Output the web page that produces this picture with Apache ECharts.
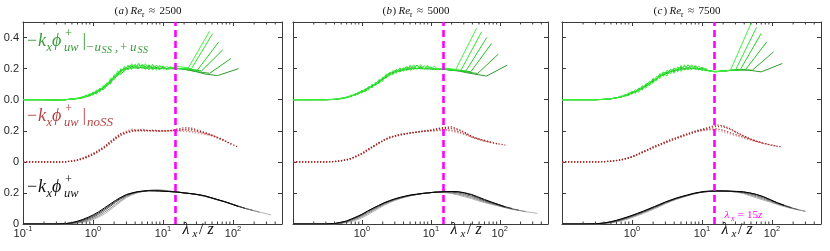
<!DOCTYPE html>
<html><head><meta charset="utf-8">
<script src="https://cdn.jsdelivr.net/npm/echarts@6/dist/echarts.min.js"></script>
<style>html,body{margin:0;padding:0;background:#fff}#c{width:830px;height:251px}</style>
</head><body><div id="c"></div>
<script>
// ---------- axes / ticks ----------
const xMin = 0.1, xMax = 500, yMin = 0, yMax = 1.3;
const yTickVals = [0, 0.2, 0.4, 0.6, 0.8, 1.0, 1.2];
const yTickText = ['0', '0.2', '0', '0.2', '0.0', '0.2', '0.4'];
const minorTicks = [0.2,0.3,0.4,0.5,0.6,0.7,0.8,0.9,2,3,4,5,6,7,8,9,20,30,40,50,60,70,80,90,200,300,400];
const panelLetters = ['a', 'b', 'c'];
const panelRe = ['2500', '5000', '7500'];
const refLambda = 15;
const offGreen = 0.8, offRed = 0.4, offBlack = 0;

// ---------- lambda grids ----------
const gGrid = [0.1,0.2,0.3,0.4,0.5,0.6,0.7,0.8,0.9,1,1.12,1.25,1.4,1.58,1.78,2,2.24,2.5,2.8,3.16,3.55,4,4.5,5,5.6,6.3,7.1,8,9,10,11.2,12.6];
const rGrid = [0.1,0.2,0.3,0.4,0.5,0.6,0.7,0.85,1,1.2,1.45,1.75,2.1,2.5,3,3.6,4.3,5.2,6.2,7.5,9,11,13,16,20,25,31,39,48,60,75,95,120,140];
const kGrid = [0.1,0.2,0.3,0.4,0.5,0.6,0.7,0.85,1,1.2,1.45,1.75,2.1,2.5,3,3.6,4.3,5.2,6.2,7.5,9,11,13,16,20,25,31,39,48,60,75,95,120,150,190,240,300,350];

// ---------- panel (a) ----------
const greenA = [
 [0,0,-.002,0,.004,.01,.018,.02,.04,.03,.062,.05,.092,.085,.14,.13,.185,.17,.215,.19,.232,.2,.235,.2,.232,.195,.228,.19,.22,.195,.215,.2],
 [0,0,-.001,.001,.003,.007,.01,.03,.022,.05,.036,.075,.062,.108,.1,.16,.152,.2,.182,.222,.195,.228,.2,.226,.195,.225,.19,.222,.195,.218,.195,.21],
 [0,0,-.002,0,.005,.009,.016,.026,.024,.042,.056,.052,.08,.104,.11,.138,.17,.162,.19,.215,.2,.21,.225,.205,.2,.222,.205,.198,.218,.2,.2,.21],
 [0,0,-.003,-.001,.004,.008,.012,.022,.034,.03,.05,.068,.066,.09,.128,.13,.16,.192,.19,.2,.222,.205,.2,.225,.21,.195,.218,.205,.195,.212,.2,.2],
 [0,0,-.002,0,.003,.007,.015,.018,.03,.04,.044,.062,.078,.088,.115,.148,.158,.18,.205,.198,.212,.218,.205,.212,.2,.215,.2,.208,.2,.205,.198,.2],
 [0,0,-.002,0,.004,.008,.014,.024,.028,.04,.05,.058,.078,.094,.122,.142,.17,.182,.2,.202,.212,.208,.21,.206,.212,.204,.206,.2,.204,.2,.2,.2]
];
const greenTailA = [
 [[15.3,.215],[23,.205],[46,.44]],
 [[12.75,.2],[17,.2],[25.5,.2],[51,.425]],
 [[15.5,.2],[20.7,.198],[31,.19],[62,.37]],
 [[14.2,.2],[17.75,.2],[23.7,.195],[35.5,.185],[71,.32]],
 [[15.5,.2],[18.6,.2],[23.25,.19],[31,.18],[46.5,.17],[93,.265]],
 [[15,.2],[17.1,.2],[20,.195],[24,.19],[30,.18],[40,.165],[60,.155],[120,.2]]
];
const redA = [
 [0,0,-.002,0,.005,.012,.02,.036,.05,.072,.094,.128,.152,.18,.19,.202,.2,.205,.2,.202,.198,.2,.2,.205,.21,.21,.2,.188,.175,.158,.138,.115,.093],
 [0,0,-.001,.001,.004,.01,.018,.032,.047,.066,.092,.12,.15,.172,.19,.196,.205,.2,.204,.198,.2,.198,.203,.212,.22,.218,.205,.19,.175,.155,.135,.112],
 [0,0,-.002,0,.006,.014,.023,.04,.055,.076,.1,.132,.16,.184,.198,.21,.205,.21,.2,.205,.2,.2,.2,.2,.205,.2,.195,.182,.17,.152,.14],
 [0,0,-.002,0,.005,.011,.019,.033,.048,.068,.09,.118,.148,.17,.186,.196,.2,.198,.2,.198,.196,.198,.198,.2,.198,.195,.19,.182,.172,.16],
 [0,0,-.003,-.001,.003,.009,.016,.03,.044,.064,.088,.115,.145,.168,.185,.195,.198,.2,.198,.2,.198,.2,.2,.198,.195,.19,.182,.175,.17]
];
const blackA = [
 [0,0,0,.002,.009,.018,.028,.043,.058,.078,.103,.128,.152,.172,.19,.2,.208,.212,.214,.213,.212,.21,.208,.206,.2,.196,.19,.182,.17,.157,.144,.128,.112],
 [0,0,0,.002,.007,.015,.024,.037,.051,.07,.095,.12,.146,.167,.186,.198,.206,.211,.214,.214,.213,.21,.208,.205,.2,.195,.19,.181,.17,.157,.145,.13,.114,.1],
 [0,0,0,.001,.005,.011,.019,.03,.043,.062,.086,.112,.14,.162,.182,.196,.205,.211,.215,.216,.215,.212,.209,.205,.2,.195,.189,.18,.169,.156,.144,.13,.114,.1,.088],
 [0,0,0,.001,.003,.008,.014,.024,.035,.052,.075,.1,.128,.152,.176,.192,.203,.21,.216,.218,.218,.214,.21,.206,.2,.195,.188,.179,.168,.155,.143,.129,.113,.1,.088,.076],
 [0,0,0,0,.002,.005,.01,.018,.028,.044,.064,.09,.118,.145,.17,.188,.2,.21,.216,.22,.22,.216,.212,.207,.201,.195,.188,.179,.168,.155,.143,.128,.113,.1,.088,.076,.066,.058]
];

// ---------- panel (b) ----------
const greenB = [
 [0,0,0,.002,.01,.013,.03,.028,.052,.042,.074,.062,.1,.09,.132,.118,.166,.15,.188,.168,.205,.182,.215,.19,.225,.195,.225,.195,.22,.195,.215,.195],
 [0,0,0,.001,.006,.018,.02,.04,.036,.06,.052,.085,.076,.112,.104,.145,.138,.175,.16,.195,.178,.206,.188,.222,.195,.222,.198,.218,.196,.21,.195,.2],
 [0,0,0,.002,.008,.014,.026,.03,.04,.058,.06,.066,.094,.1,.11,.14,.155,.155,.18,.19,.18,.2,.21,.19,.205,.222,.2,.2,.215,.198,.196,.198],
 [0,0,0,.003,.007,.016,.022,.036,.046,.048,.064,.08,.08,.104,.124,.126,.15,.172,.168,.18,.198,.19,.196,.212,.2,.198,.214,.2,.198,.205,.194,.195],
 [0,0,0,.002,.008,.014,.025,.03,.044,.052,.056,.076,.09,.096,.12,.134,.145,.168,.176,.178,.19,.192,.2,.2,.205,.2,.208,.2,.204,.198,.198,.195],
 [0,0,0,.002,.008,.015,.023,.034,.041,.052,.062,.07,.086,.102,.114,.132,.15,.16,.174,.182,.186,.192,.194,.198,.2,.202,.2,.2,.2,.198,.196,.195]
];
const greenTailB = [
 [[15.3,.205],[23,.195],[46,.46]],
 [[13.65,.2],[18.2,.195],[27.3,.19],[54.6,.437]],
 [[12.9,.2],[16.15,.195],[21.5,.19],[32.3,.185],[64.6,.40]],
 [[15.2,.2],[19,.192],[25.3,.188],[38,.18],[76,.362]],
 [[13.6,.2],[15.8,.2],[19,.192],[23.75,.188],[31.7,.18],[47.5,.168],[95,.293]],
 [[14.2,.198],[16,.195],[18.3,.19],[21.3,.188],[25.6,.184],[32,.175],[42.7,.165],[64,.152],[128,.222]]
];
const redB = [
 [0,0,0,.002,.008,.014,.022,.04,.054,.08,.1,.124,.14,.16,.165,.178,.18,.19,.19,.198,.2,.21,.215,.222,.225,.21,.19,.165,.15,.138,.126,.116,.108],
 [0,0,0,.001,.006,.012,.02,.036,.05,.072,.096,.118,.142,.152,.168,.172,.182,.184,.194,.194,.202,.2,.212,.215,.215,.205,.186,.162,.148,.135,.124,.114],
 [0,0,0,.003,.008,.015,.024,.041,.056,.078,.1,.122,.138,.158,.166,.176,.178,.188,.19,.196,.198,.205,.205,.208,.205,.195,.18,.16,.146,.134,.124],
 [0,0,0,.002,.007,.013,.021,.037,.051,.074,.097,.119,.141,.156,.164,.172,.182,.186,.192,.196,.2,.2,.202,.205,.2,.19,.176,.158,.145,.134],
 [0,0,0,.002,.006,.012,.02,.034,.048,.07,.094,.116,.138,.154,.163,.171,.179,.184,.19,.194,.196,.198,.2,.2,.196,.186,.174,.158,.147]
];
const blackB = [
 [0,0,0,.003,.011,.02,.032,.048,.063,.083,.102,.12,.137,.15,.162,.172,.18,.188,.192,.197,.2,.204,.206,.208,.209,.208,.201,.19,.175,.158,.142,.126,.11],
 [0,0,0,.003,.01,.018,.03,.045,.06,.08,.1,.118,.135,.148,.16,.17,.178,.186,.19,.196,.2,.204,.206,.208,.208,.206,.198,.186,.17,.153,.139,.125,.111,.1],
 [0,0,0,.002,.008,.015,.026,.04,.055,.074,.094,.113,.131,.145,.158,.168,.177,.185,.19,.196,.2,.204,.206,.207,.205,.2,.19,.178,.163,.148,.135,.122,.108,.098,.089],
 [0,0,0,.001,.006,.012,.021,.034,.048,.066,.087,.107,.126,.141,.155,.166,.175,.184,.19,.196,.2,.204,.206,.205,.2,.192,.182,.17,.156,.142,.13,.118,.106,.096,.088,.08],
 [0,0,0,.001,.004,.009,.016,.027,.04,.058,.079,.1,.12,.136,.151,.163,.173,.182,.189,.195,.2,.204,.205,.202,.196,.186,.175,.163,.15,.138,.127,.116,.105,.095,.087,.079,.073,.068]
];

// ---------- panel (c) ----------
const greenC = [
 [0,0,0,.002,.007,.011,.024,.022,.046,.034,.066,.048,.09,.074,.12,.104,.15,.136,.178,.152,.198,.17,.212,.182,.225,.19,.225,.192,.218,.188,.205,.182],
 [0,0,0,.001,.005,.014,.014,.034,.026,.054,.042,.076,.062,.104,.09,.138,.122,.168,.15,.19,.168,.205,.18,.22,.19,.225,.195,.22,.192,.21,.186,.188],
 [0,0,0,.002,.006,.012,.02,.024,.036,.052,.05,.06,.088,.084,.104,.132,.13,.15,.178,.165,.18,.2,.19,.2,.215,.2,.198,.215,.2,.19,.196,.185],
 [0,0,0,.003,.006,.013,.016,.028,.04,.04,.052,.072,.07,.094,.115,.112,.14,.16,.156,.175,.192,.18,.196,.21,.195,.2,.215,.198,.198,.205,.188,.188],
 [0,0,0,.002,.006,.012,.019,.027,.032,.046,.052,.06,.08,.086,.102,.124,.13,.152,.166,.17,.184,.19,.19,.2,.2,.205,.2,.206,.198,.198,.19,.186],
 [0,0,0,.002,.006,.012,.018,.026,.035,.042,.05,.063,.074,.09,.102,.12,.132,.15,.162,.174,.18,.188,.19,.196,.198,.202,.2,.2,.198,.196,.19,.186]
];
const greenTailC = [
 [[12.75,.185],[17,.18],[25.5,.19],[51,.5]],
 [[15,.18],[20,.185],[30,.19],[60,.465]],
 [[14,.182],[17.5,.182],[23.3,.188],[35,.192],[70,.426]],
 [[14,.182],[16.8,.182],[21,.186],[28,.19],[42,.195],[84,.372]],
 [[15,.18],[17.5,.182],[21,.185],[26.25,.19],[35,.192],[52.5,.19],[105,.308]],
 [[14,.182],[15.6,.18],[17.5,.182],[20,.184],[23.3,.186],[28,.19],[35,.192],[46.7,.19],[70,.179],[140,.233]]
];
const redC = [
 [0,0,0,.001,.005,.009,.014,.024,.034,.05,.066,.084,.1,.114,.13,.145,.155,.17,.18,.195,.205,.215,.225,.238,.232,.215,.19,.168,.15,.134,.12,.108,.1,.096],
 [0,0,0,.001,.004,.008,.012,.021,.031,.046,.062,.078,.095,.108,.122,.138,.15,.164,.176,.188,.2,.21,.22,.228,.225,.21,.188,.166,.148,.132,.12,.11,.1],
 [0,0,0,.002,.005,.009,.014,.023,.033,.05,.066,.082,.1,.112,.128,.142,.154,.168,.18,.19,.2,.206,.21,.212,.205,.19,.175,.16,.145,.13,.118],
 [0,0,0,.001,.004,.007,.012,.02,.03,.045,.061,.076,.093,.106,.12,.136,.148,.162,.174,.186,.196,.204,.21,.21,.2,.185,.17,.156,.142,.13],
 [0,0,0,.001,.004,.008,.013,.022,.032,.048,.064,.08,.097,.11,.125,.14,.152,.165,.177,.188,.198,.2,.205,.2,.19,.178,.165,.152,.14]
];
const blackC = [
 [0,0,.001,.007,.015,.024,.033,.045,.056,.069,.083,.098,.113,.127,.142,.155,.167,.178,.187,.197,.204,.21,.212,.213,.213,.212,.21,.207,.2,.19,.176,.156,.136,.12],
 [0,0,.001,.006,.013,.022,.03,.042,.053,.066,.08,.095,.11,.124,.14,.153,.165,.176,.185,.195,.202,.208,.21,.211,.211,.21,.209,.206,.2,.19,.175,.155,.135,.12,.105],
 [0,0,.001,.005,.011,.019,.027,.039,.05,.063,.077,.092,.107,.121,.137,.151,.163,.175,.184,.194,.202,.208,.21,.212,.212,.21,.207,.202,.194,.182,.168,.15,.132,.118,.104,.092],
 [0,0,0,.004,.009,.016,.024,.035,.046,.059,.073,.088,.103,.118,.134,.148,.161,.173,.183,.193,.201,.207,.21,.213,.212,.21,.206,.2,.188,.175,.16,.145,.128,.115,.102,.091,.082],
 [0,0,0,.003,.007,.013,.02,.03,.041,.054,.068,.083,.098,.113,.13,.145,.158,.17,.181,.192,.2,.206,.21,.214,.213,.21,.205,.196,.182,.168,.154,.14,.125,.112,.1,.09,.081]
];

// ---------- styling ----------
const greenColors = ['#3cf53c','#2fe42f','#22d222','#22c022','#28ac28','#2f982f'];
const redColors = ['#9b2020','#b03c3c','#c45e5e','#d88686','#e9b0b0'];
const blackColors = ['#000000','#333333','#666666','#8f8f8f','#b4b4b4'];
const axisColor = '#3a3a3a';
const SERIF = '"Liberation Serif","DejaVu Serif",serif';
const SANS = '"Liberation Sans",Arial,sans-serif';
const gridRects = [{left:23,width:259},{left:293,width:255},{left:562,width:259}];
const gridTop = 22, gridHeight = 202;

const panels = [
  {green: greenA, tail: greenTailA, red: redA, black: blackA},
  {green: greenB, tail: greenTailB, red: redB, black: blackB},
  {green: greenC, tail: greenTailC, red: redC, black: blackC}
];

function zip(grid, vals, off) { return vals.map((v, i) => [grid[i], v + off]); }

const chart = echarts.init(document.getElementById('c'), null, {renderer: 'canvas'});
const grid = [], xAxis = [], yAxis = [], series = [];

gridRects.forEach((g, i) => {
  grid.push({left: g.left, width: g.width, top: gridTop, height: gridHeight, containLabel: false});
  const xBase = {
    type: 'log', logBase: 10, gridIndex: i, min: xMin, max: xMax,
    axisLine: {show: true, onZero: false, lineStyle: {color: axisColor, width: 1}},
    axisTick: {show: true, inside: true, length: 4, lineStyle: {color: axisColor, width: 1}},
    splitLine: {show: false}, minorTick: {show: false}, minorSplitLine: {show: false}
  };
  xAxis.push(Object.assign({}, xBase, {
    position: 'bottom',
    axisLabel: {
      show: true, margin: 1,
      formatter: v => {
        const l = Math.log10(v), e = Math.round(l);
        if (Math.abs(l - e) > 1e-6) return '';
        if (i > 0 && e === -1) return '';
        return '{b|10}{s|' + e + '}';
      },
      rich: {
        b: {fontSize: 11, fontFamily: SANS, color: '#262626', lineHeight: 14, verticalAlign: 'bottom'},
        s: {fontSize: 7.5, fontFamily: SANS, color: '#262626', lineHeight: 8, verticalAlign: 'top'}
      }
    }
  }));
  xAxis.push(Object.assign({}, xBase, {position: 'top', axisLabel: {show: false}}));
  const yBase = {
    type: 'value', gridIndex: i, min: yMin, max: yMax, interval: 0.2,
    axisLine: {show: true, onZero: false, lineStyle: {color: axisColor, width: 1}},
    axisTick: {show: true, inside: true, length: 4, lineStyle: {color: axisColor, width: 1}},
    splitLine: {show: false}
  };
  yAxis.push(Object.assign({}, yBase, {
    position: 'left',
    axisLabel: {
      show: i === 0, margin: 4, fontSize: 11, fontFamily: SANS, color: '#262626',
      formatter: v => {
        const k = yTickVals.findIndex(t => Math.abs(t - v) < 1e-6);
        return k >= 0 ? yTickText[k] : '';
      }
    }
  }));
  yAxis.push(Object.assign({}, yBase, {position: 'right', axisLabel: {show: false}}));

  const xi = 2 * i, yi = 2 * i;
  const P = panels[i];
  const base = {type: 'line', xAxisIndex: xi, yAxisIndex: yi, showSymbol: false, symbol: 'none',
                silent: true, animation: false, smooth: false};
  for (let j = P.black.length - 1; j >= 0; j--) {
    series.push(Object.assign({}, base, {
      data: zip(kGrid, P.black[j], offBlack),
      lineStyle: {color: blackColors[j], width: 1}, z: 2
    }));
  }
  for (let j = P.red.length - 1; j >= 0; j--) {
    series.push(Object.assign({}, base, {
      data: zip(rGrid, P.red[j], offRed),
      lineStyle: {color: redColors[j], width: 1.2, type: [1.2, 1.8]}, z: 3
    }));
  }
  for (let j = P.green.length - 1; j >= 0; j--) {
    const d = zip(gGrid, P.green[j], offGreen).concat(P.tail[j].map(p => [p[0], p[1] + offGreen]));
    series.push(Object.assign({}, base, {
      data: d, lineStyle: {color: greenColors[j], width: 1}, z: 4
    }));
  }
  series.push({
    type: 'line', xAxisIndex: xi, yAxisIndex: yi, data: [], silent: true, animation: false, z: 10,
    markLine: {silent: true, symbol: ['none', 'none'], label: {show: false}, animation: false,
      lineStyle: {color: '#ff00ff', width: 2.6, type: [7, 4]}, data: [{xAxis: refLambda}]}
  });
  series.push({
    type: 'custom', xAxisIndex: xi, yAxisIndex: yi, silent: true, animation: false, z: 11,
    data: minorTicks.map(v => [v, 0]),
    renderItem: (params, api) => {
      const v = api.value(0);
      const b = api.coord([v, yMin]), t = api.coord([v, yMax]);
      const st = {stroke: axisColor, lineWidth: 1};
      return {type: 'group', children: [
        {type: 'line', shape: {x1: b[0], y1: b[1], x2: b[0], y2: b[1] - 2.5}, style: st},
        {type: 'line', shape: {x1: t[0], y1: t[1], x2: t[0], y2: t[1] + 2.5}, style: st}
      ]};
    }
  });
});

chart.setOption({animation: false, grid, xAxis, yAxis, series});

// ---------- text annotations ----------
function T(text, x, base, size, italic, color) {
  return {type: 'text', silent: true, z: 100, style: {
    text: text, x: x, y: base - 0.34 * size, fontSize: size, fontFamily: SERIF,
    fontStyle: italic ? 'italic' : 'normal', fill: color, align: 'left', verticalAlign: 'middle'}};
}
const mainParts = [['−',0,0,18,0],['k',11,0,18,1],['x',19.5,4.5,12.5,1],['ϕ',25,0,18,1],['+',38,-9.5,12.5,0],['uw',37,4.5,12.5,1]];
const greenExtra = [['|',55.5,0,18,0],['−',59,4.5,13,0],['u',67.5,4.5,13,1],['SS',74.5,7,10.5,1],[',',88,4.5,13,0],['+',93,4.5,13,0],['u',103,4.5,13,1],['SS',110.5,7,10.5,1]];
const redExtra = [['|',55.5,0,18,0],['noSS',60,4.5,13,1]];
const labelDefs = [
  {x: 27, base: 47, color: '#3a9c3a', parts: mainParts.concat(greenExtra)},
  {x: 27, base: 122, color: '#b34545', parts: mainParts.concat(redExtra)},
  {x: 27, base: 193, color: '#111111', parts: mainParts}
];
const graphic = [];
labelDefs.forEach(L => L.parts.forEach(p => graphic.push(T(p[0], L.x + p[1], L.base + p[2], p[3], p[4], L.color))));

gridRects.forEach((g, i) => {
  const cx = g.left + g.width / 2 - 38;
  const tb = 15, tc = '#111';
  [['(',0,0,11,0],[panelLetters[i],4,0,11,1],[')',10,0,11,0],['Re',16,0,11,1],['τ',27,2.5,8,1],['≈',34.5,0,11,0],[panelRe[i],45,0,11,0]]
    .forEach(p => graphic.push(T(p[0], cx + p[1], tb + p[2], p[3], p[4], tc)));
  const p10 = chart.convertToPixel({xAxisIndex: 2 * i, yAxisIndex: 2 * i}, [10, 0]);
  const lx = p10[0] + 19.5, lb = 235;
  [['λ',0,0,16,1],['x',10,3,11,1],['/',16.5,0,16,0],['z',25,0,16,1]]
    .forEach(p => graphic.push(T(p[0], lx + p[1], lb + p[2], p[3], p[4], '#111')));
});
const pc = chart.convertToPixel({xAxisIndex: 4, yAxisIndex: 4}, [21, 0.03]);
[['λ',0,0,11,1],['x',6.3,2,8,1],['=',13,0,11,0],['15',22.5,0,11,0],['z',33.5,0,11,1]]
  .forEach(p => graphic.push(T(p[0], pc[0] + p[1], pc[1] + p[2], p[3], p[4], '#ff00ff')));

chart.setOption({graphic: graphic});
</script>
</body></html>
